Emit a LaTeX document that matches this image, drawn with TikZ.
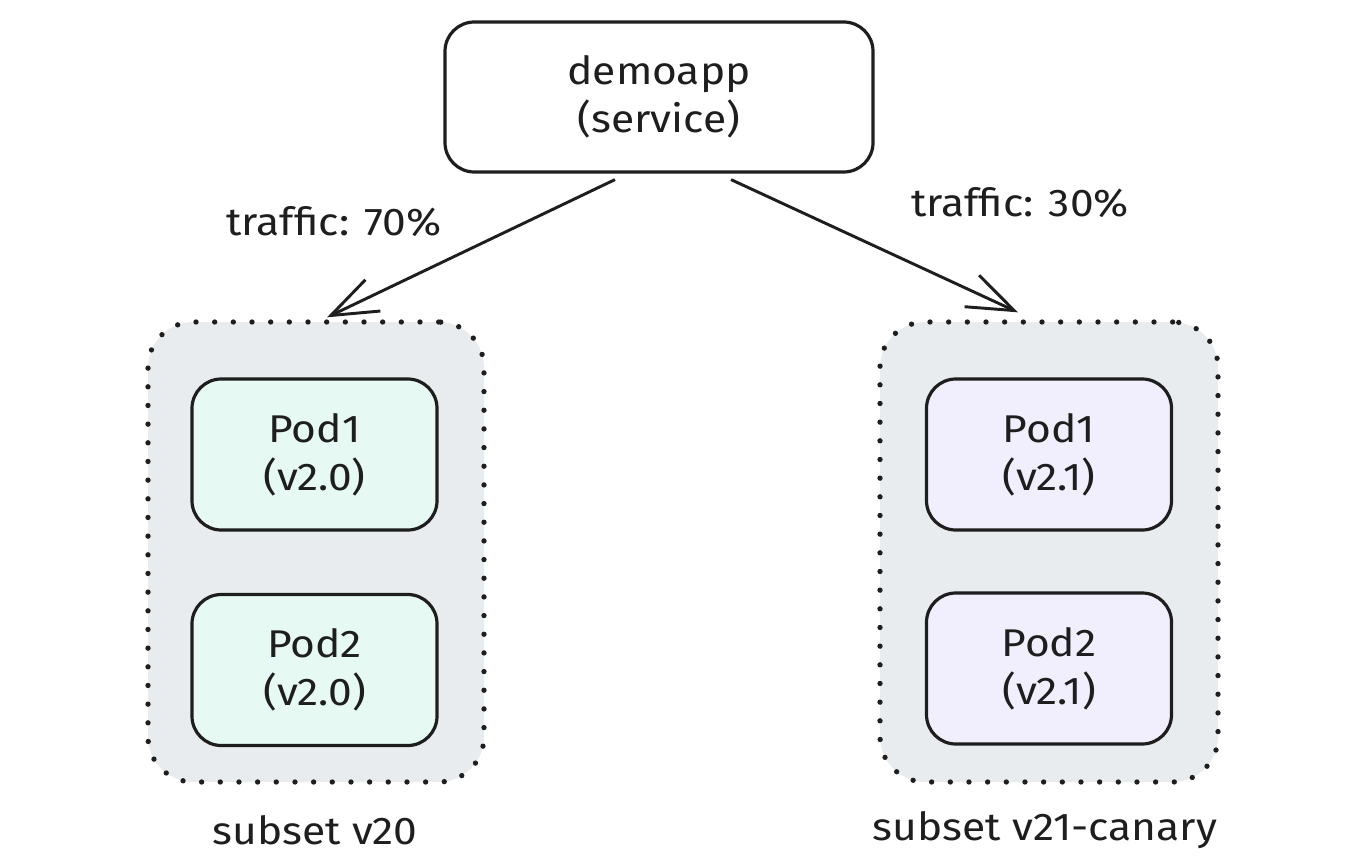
\documentclass[tikz,border=0pt]{standalone}
\usepackage{fontspec}
\setmainfont{Fira Sans}[FakeStretch=1.1]
\usetikzlibrary{arrows.meta,calc}
\definecolor{grp}{HTML}{E9ECEF}
\definecolor{greenpod}{HTML}{E6FAF3}
\definecolor{purplepod}{HTML}{F1EFFD}
\definecolor{ink}{HTML}{1E1E1E}
\tikzset{
  txt/.style={font=\fontsize{29}{36}\selectfont, text=ink, align=center},
  svcbox/.style={draw=ink, line width=2.4pt, rounded corners=22pt, fill=white,
    minimum width=321pt, minimum height=112.5pt, txt},
  grpbox/.style={draw=ink, line width=4pt, line cap=round, dash pattern=on 0pt off 14pt,
    rounded corners=34pt, fill=grp, minimum width=252pt, minimum height=345pt},
  podbox/.style={draw=ink, line width=2.4pt, rounded corners=22pt,
    minimum width=183.75pt, minimum height=113.25pt, txt},
  conn/.style={draw=ink, line width=2.2pt, -{Straight Barb[length=35pt,width=26pt,line width=2.2pt]}},
}
\begin{document}
\begin{tikzpicture}[x=0.75pt,y=-0.75pt]
\useasboundingbox (0,0) rectangle (1348,866);
\node[svcbox] (svc) at (659,97) {demoapp\\(service)};
\node[grpbox] (g1) at (316,552) {};
\node[grpbox, minimum width=253.5pt] (g2) at (1049,552) {};
\node[podbox, fill=greenpod] (p11) at (314.5,454.5) {Pod1\\(v2.0)};
\node[podbox, fill=greenpod] (p12) at (314.5,670) {Pod2\\(v2.0)};
\node[podbox, fill=purplepod] (p21) at (1049,454.5) {Pod1\\(v2.1)};
\node[podbox, fill=purplepod] (p22) at (1049,668.5) {Pod2\\(v2.1)};
\coordinate (s1) at ($(svc.south)+(-44,6)$);
\coordinate (s2) at ($(svc.south)+(72,6)$);
\coordinate (t1) at ($(g1.north)+(11,-2)$);
\coordinate (t2) at ($(g2.north)+(-31,-7)$);
\draw[conn] (s1) -- (t1);
\draw[conn] (s2) -- (t2);
\node[txt] (l1) at (334,222) {traffic: 70\%};
\node[txt] (l2) at (1020,203) {traffic: 30\%};
\node[txt] (c1) at (315,830) {subset v20};
\node[txt] (c2) at (1045,830) {subset v21-canary};
\end{tikzpicture}
\end{document}
